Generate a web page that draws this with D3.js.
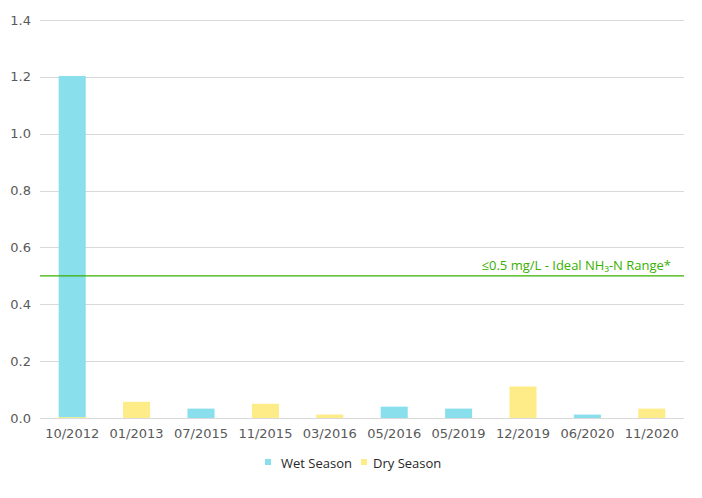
<!DOCTYPE html>
<html><head><meta charset="utf-8">
<script src="https://cdn.jsdelivr.net/npm/d3@7"></script>
<style>body{margin:0;background:#fff}svg{display:block}</style>
</head><body>
<svg id="c" width="702" height="498"></svg>
<script>
const categories = ["10/2012","01/2013","07/2015","11/2015","03/2016","05/2016","05/2019","12/2019","06/2020","11/2020"];
const wetSeason = [1.2, 0, 0.033, 0, 0, 0.04, 0.033, 0, 0.012, 0];
const drySeason = [0.003, 0.057, 0, 0.05, 0.012, 0, 0, 0.111, 0, 0.033];
const yTicks = [0, 0.2, 0.4, 0.6, 0.8, 1.0, 1.2, 1.4];
const thresholdValue = 0.5;
const thresholdLabel = "≤0.5 mg/L - Ideal NH₃-N Range*";
const seriesNames = ["Wet Season", "Dry Season"];
const colors = {wet: "#89e0ec", dry: "#fdec87"};

const svg = d3.select("#c");
const m = {l: 40, r: 18, t: 20, b: 80};
const W = 702, H = 498;
const x = d3.scaleBand().domain(categories).range([m.l, W - m.r]).paddingInner(0.58).paddingOuter(0.29);
const y = d3.scaleLinear().domain([0, 1.4]).range([H - m.b, m.t]);

// gridlines
svg.append("g").selectAll("line").data(yTicks).join("line")
  .attr("x1", m.l).attr("x2", W - m.r)
  .attr("y1", d => Math.round(y(d)) + 0.5).attr("y2", d => Math.round(y(d)) + 0.5)
  .attr("stroke", "#d9d9d9").attr("stroke-width", 1);

// y labels
svg.append("g").selectAll("text").data(yTicks).join("text")
  .attr("x", 31).attr("y", d => y(d)).attr("dy", "0.35em")
  .attr("text-anchor", "end")
  .attr("font-family", "DejaVu Sans, Verdana, sans-serif").attr("font-size", 13)
  .attr("fill", "#595959")
  .text(d => d.toFixed(1));

// stacked bars: dry at bottom, wet on top
const data = categories.map((c, i) => ({cat: c, dry: drySeason[i], wet: wetSeason[i]}));
const stack = d3.stack().keys(["dry", "wet"])(data);
svg.append("g").selectAll("g").data(stack).join("g")
  .attr("fill", d => colors[d.key])
  .selectAll("rect").data(d => d).join("rect")
  .attr("x", d => x(d.data.cat))
  .attr("width", x.bandwidth())
  .attr("y", d => y(d[1]))
  .attr("height", d => y(d[0]) - y(d[1]));

// x axis line
svg.append("line").attr("x1", m.l).attr("x2", W - m.r)
  .attr("y1", Math.round(y(0)) + 0.5).attr("y2", Math.round(y(0)) + 0.5)
  .attr("stroke", "#d9d9d9");

// x labels
svg.append("g").selectAll("text").data(categories).join("text")
  .attr("x", d => x(d) + x.bandwidth() / 2).attr("y", 438)
  .attr("text-anchor", "middle")
  .attr("font-family", "DejaVu Sans, Verdana, sans-serif").attr("font-size", 13)
  .attr("fill", "#595959")
  .text(d => d);

// threshold line
svg.append("line").attr("x1", m.l).attr("x2", W - m.r)
  .attr("y1", y(thresholdValue)).attr("y2", y(thresholdValue))
  .attr("stroke", "#38b000").attr("stroke-width", 1.2);
svg.append("text").attr("x", 671).attr("y", y(thresholdValue) - 6)
  .attr("text-anchor", "end")
  .attr("font-family", "Open Sans, sans-serif").attr("font-size", 13)
  .attr("fill", "#38b000")
  .text(thresholdLabel);

// legend
const leg = svg.append("g");
const legItems = [
  {name: seriesNames[0], color: colors.wet, sx: 265, tx: 281},
  {name: seriesNames[1], color: colors.dry, sx: 361, tx: 373}
];
legItems.forEach(it => {
  leg.append("rect").attr("x", it.sx).attr("y", 459).attr("width", 6).attr("height", 6).attr("fill", it.color);
  leg.append("text").attr("x", it.tx).attr("y", 463).attr("dy", "0.35em")
    .attr("font-family", "Open Sans, sans-serif").attr("font-size", 13)
    .attr("fill", "#262626").text(it.name);
});
</script>
</body></html>
